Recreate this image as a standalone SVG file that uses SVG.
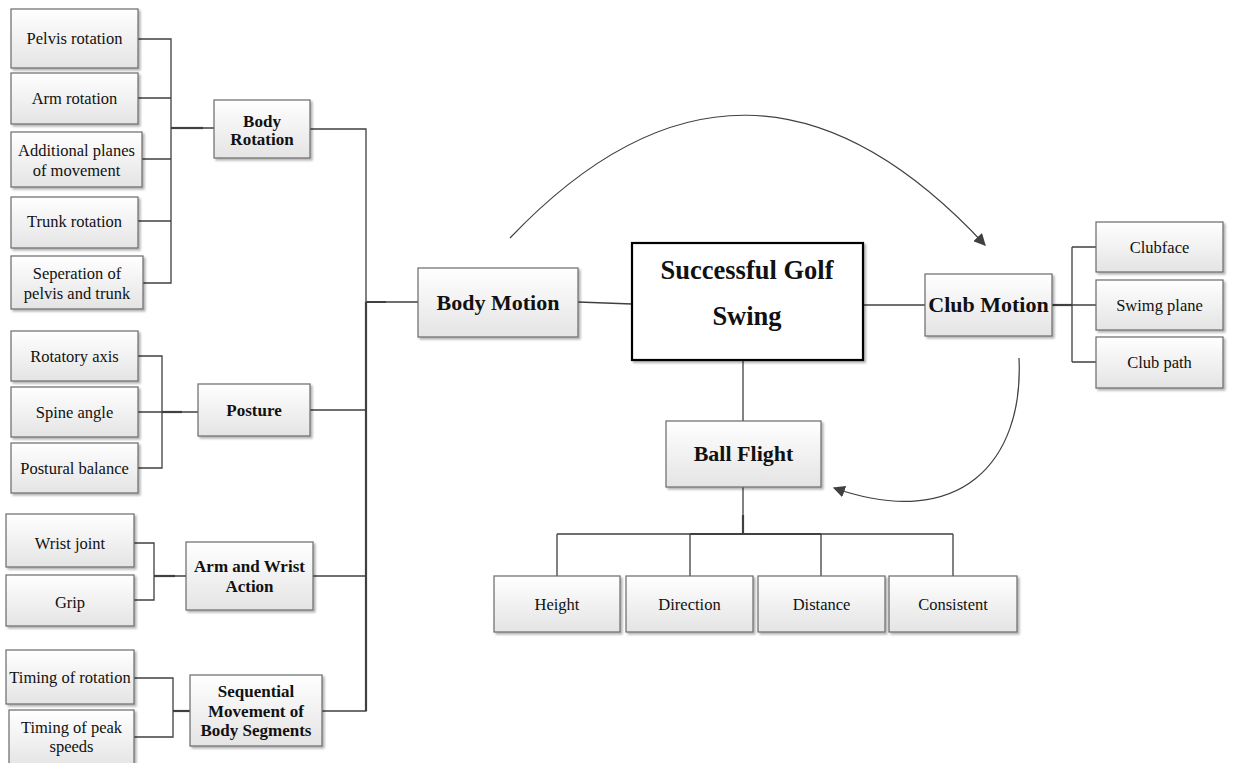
<svg xmlns="http://www.w3.org/2000/svg" width="1235" height="763" viewBox="0 0 1235 763">
  <defs>
    <linearGradient id="boxFill" x1="0" y1="0" x2="0" y2="1">
      <stop offset="0" stop-color="#ffffff"/>
      <stop offset="1" stop-color="#e4e4e4"/>
    </linearGradient>
    <filter id="shadow" x="-10%" y="-10%" width="130%" height="140%">
      <feDropShadow dx="2" dy="2" stdDeviation="1" flood-color="#000" flood-opacity="0.3"/>
    </filter>
    <marker id="arrow" viewBox="0 0 10 10" refX="9" refY="5" markerWidth="12" markerHeight="12" markerUnits="userSpaceOnUse" orient="auto">
      <path d="M0,0 L10,5 L0,10 Z" fill="#404040"/>
    </marker>
    <style>
      .box { fill: url(#boxFill); stroke: #6a6a6a; stroke-width: 1.2; filter: url(#shadow); }
      .main { fill: #ffffff; stroke: #000; stroke-width: 2.2; filter: url(#shadow); }
      .t { font-family: "Liberation Serif", "Times New Roman", serif; font-size: 16.5px; fill: #111; text-anchor: middle; }
      .b { font-family: "Liberation Serif", "Times New Roman", serif; font-size: 17px; font-weight: bold; fill: #111; text-anchor: middle; }
      .bl { font-family: "Liberation Serif", "Times New Roman", serif; font-size: 22px; font-weight: bold; fill: #111; text-anchor: middle; }
      .bx { font-family: "Liberation Serif", "Times New Roman", serif; font-size: 26.5px; font-weight: bold; fill: #111; text-anchor: middle; }
      .ln { fill: none; stroke: #404040; stroke-width: 1.3; }
      .lk { fill: none; stroke: #404040; stroke-width: 2.2; }
      .arc { fill: none; stroke: #404040; stroke-width: 1.2; }
    </style>
  </defs>

  <!-- connectors -->
  <g id="connectors">
    <!-- Body Rotation branch -->
    <path class="ln" d="M138,39 H171 V283 H143 M138,98 H171 M142,159 H171 M138,221 H171 M171,128 H214"/>
    <path class="lk" d="M171,128 H203"/>
    <!-- Posture branch -->
    <path class="ln" d="M138,356 H162 V468 H138 M138,412 H198"/>
    <path class="lk" d="M162,412 H182"/>
    <!-- Arm and Wrist branch -->
    <path class="ln" d="M134,543 H154 V600 H134 M154,576 H186"/>
    <path class="lk" d="M154,576 H175"/>
    <!-- Sequential Movement branch -->
    <path class="ln" d="M134,678 H173 V737 H134 M173,711 H190"/>
    <path class="lk" d="M173,711 H193"/>
    <!-- trunk to Body Motion -->
    <path class="ln" d="M310,129 H366 V711 H322 M310,410 H366 M313,576 H366 M366,302 H418"/>
    <path class="lk" d="M366,302 H386 M366,302 V711"/>
    <!-- Body Motion to centre -->
    <path class="ln" d="M578,302 L632,304"/>
    <!-- centre to Club Motion -->
    <path class="ln" d="M863,305 H925"/>
    <path class="ln" d="M1052,305 H1097 M1072,247 V362 M1072,247 H1096 M1072,362 H1096"/>
    <path class="lk" d="M1052,305 H1072"/>
    <!-- centre to Ball Flight -->
    <path class="ln" d="M743,360 V421"/>
    <path class="ln" d="M743,487 V534 M557,534 H953 M557,534 V576 M690,534 V576 M821,534 V576 M953,534 V576"/>
    <path class="lk" d="M743,515 V534 M690,534 H821"/>
    <!-- cycle arrows -->
    <path class="arc" d="M510,238 Q747,-11 985,245" marker-end="url(#arrow)"/>
    <path class="arc" d="M1019,358 C1024,462 960,532 834,488" marker-end="url(#arrow)"/>
  </g>

  <!-- centre node -->
  <g id="node-golf-swing">
    <rect class="main" x="632" y="243" width="231" height="117"/>
    <text class="bx" x="747" y="279">Successful Golf</text>
    <text class="bx" x="747" y="325">Swing</text>
  </g>

  <g id="node-body-motion">
    <rect class="box" x="418" y="268" width="160" height="69"/>
    <text class="bl" x="498" y="310">Body Motion</text>
  </g>

  <g id="node-club-motion">
    <rect class="box" x="925" y="274" width="127" height="62"/>
    <text class="bl" x="988.5" y="312">Club Motion</text>
  </g>

  <g id="node-ball-flight">
    <rect class="box" x="666" y="421" width="155" height="66"/>
    <text class="bl" x="743.5" y="461">Ball Flight</text>
  </g>

  <!-- club motion factors -->
  <g id="node-clubface">
    <rect class="box" x="1096" y="222" width="127" height="50"/>
    <text class="t" x="1159.5" y="253">Clubface</text>
  </g>
  <g id="node-swing-plane">
    <rect class="box" x="1096" y="280" width="127" height="50"/>
    <text class="t" x="1159.5" y="311">Swimg plane</text>
  </g>
  <g id="node-club-path">
    <rect class="box" x="1096" y="337" width="127" height="51"/>
    <text class="t" x="1159.5" y="368">Club path</text>
  </g>

  <!-- ball flight factors -->
  <g id="node-height">
    <rect class="box" x="494" y="576" width="126" height="56"/>
    <text class="t" x="557" y="610">Height</text>
  </g>
  <g id="node-direction">
    <rect class="box" x="626" y="576" width="127" height="56"/>
    <text class="t" x="689.5" y="610">Direction</text>
  </g>
  <g id="node-distance">
    <rect class="box" x="758" y="576" width="127" height="56"/>
    <text class="t" x="821.5" y="610">Distance</text>
  </g>
  <g id="node-consistent">
    <rect class="box" x="889" y="576" width="128" height="56"/>
    <text class="t" x="953" y="610">Consistent</text>
  </g>

  <!-- body motion groups -->
  <g id="node-body-rotation">
    <rect class="box" x="214" y="100" width="96" height="58"/>
    <text class="b" x="262" y="127">Body</text>
    <text class="b" x="262" y="145">Rotation</text>
  </g>
  <g id="node-posture">
    <rect class="box" x="198" y="384" width="112" height="52"/>
    <text class="b" x="254" y="416">Posture</text>
  </g>
  <g id="node-arm-wrist">
    <rect class="box" x="186" y="542" width="127" height="68"/>
    <text class="b" x="249.5" y="572">Arm and Wrist</text>
    <text class="b" x="249.5" y="592">Action</text>
  </g>
  <g id="node-sequential">
    <rect class="box" x="190" y="675" width="132" height="71"/>
    <text class="b" x="256" y="697">Sequential</text>
    <text class="b" x="256" y="717">Movement of</text>
    <text class="b" x="256" y="736">Body Segments</text>
  </g>

  <!-- body rotation factors -->
  <g id="node-pelvis-rotation">
    <rect class="box" x="11" y="9" width="127" height="59"/>
    <text class="t" x="74.5" y="44">Pelvis rotation</text>
  </g>
  <g id="node-arm-rotation">
    <rect class="box" x="11" y="73" width="127" height="51"/>
    <text class="t" x="74.5" y="104">Arm rotation</text>
  </g>
  <g id="node-additional-planes">
    <rect class="box" x="11" y="132" width="131" height="55"/>
    <text class="t" x="76.5" y="156">Additional planes</text>
    <text class="t" x="76.5" y="176">of movement</text>
  </g>
  <g id="node-trunk-rotation">
    <rect class="box" x="11" y="197" width="127" height="51"/>
    <text class="t" x="74.5" y="227">Trunk rotation</text>
  </g>
  <g id="node-separation">
    <rect class="box" x="11" y="256" width="132" height="53"/>
    <text class="t" x="77" y="279">Seperation of</text>
    <text class="t" x="77" y="299">pelvis and trunk</text>
  </g>

  <!-- posture factors -->
  <g id="node-rotatory-axis">
    <rect class="box" x="11" y="331" width="127" height="50"/>
    <text class="t" x="74.5" y="362">Rotatory axis</text>
  </g>
  <g id="node-spine-angle">
    <rect class="box" x="11" y="387" width="127" height="50"/>
    <text class="t" x="74.5" y="418">Spine angle</text>
  </g>
  <g id="node-postural-balance">
    <rect class="box" x="11" y="443" width="127" height="50"/>
    <text class="t" x="74.5" y="474">Postural balance</text>
  </g>

  <!-- arm and wrist factors -->
  <g id="node-wrist-joint">
    <rect class="box" x="6" y="514" width="128" height="53"/>
    <text class="t" x="70" y="549">Wrist joint</text>
  </g>
  <g id="node-grip">
    <rect class="box" x="6" y="575" width="128" height="51"/>
    <text class="t" x="70" y="608">Grip</text>
  </g>

  <!-- sequencing factors -->
  <g id="node-timing-rotation">
    <rect class="box" x="6" y="650" width="128" height="54"/>
    <text class="t" x="70" y="683">Timing of rotation</text>
  </g>
  <g id="node-timing-peak">
    <rect class="box" x="9" y="710" width="125" height="58"/>
    <text class="t" x="71.5" y="733">Timing of peak</text>
    <text class="t" x="71.5" y="752">speeds</text>
  </g>
</svg>
